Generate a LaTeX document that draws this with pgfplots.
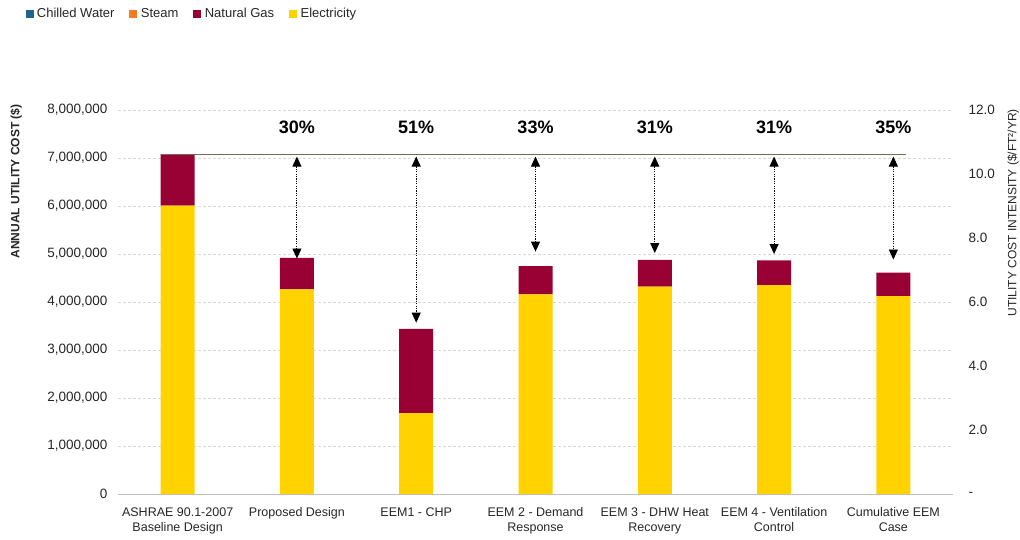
\documentclass[border=0pt]{standalone}
\usepackage{fontspec}
\setmainfont{Liberation Sans}
\usepackage{pgfplots}
\usepackage{pgfplotstable}
\pgfplotsset{compat=1.18}
\usetikzlibrary{arrows.meta}
\definecolor{cw}{HTML}{1F6391}
\definecolor{stm}{HTML}{F47B20}
\definecolor{gas}{HTML}{990033}
\definecolor{elec}{HTML}{FFD200}
\definecolor{refl}{HTML}{7A6A55}
\definecolor{gridc}{HTML}{D9D9D9}
\definecolor{axc}{HTML}{BFBFBF}
\definecolor{txt}{HTML}{262626}

% annual utility cost ($) by end use
\pgfplotstableread{
x elec gas
0 6010000 1070000
1 4265000 655000
2 1685000 1755000
3 4160000 585000
4 4320000 560000
5 4350000 515000
6 4120000 490000
}\costs

\newcommand{\lfont}{\fontsize{12.5}{15}\selectfont}
\newcommand{\nfont}{\fontsize{13.5}{15}\selectfont}

\begin{document}
\begin{tikzpicture}
\begin{axis}[
  name=main,
  scale only axis, width=835pt, height=384pt,
  ybar stacked, bar width=34pt,
  xmin=-0.5, xmax=6.5, ymin=0, ymax=8000000,
  xtick={0,...,6},
  xticklabels={{ASHRAE 90.1-2007\\Baseline Design},{Proposed Design},{EEM1 - CHP},{EEM 2 - Demand\\Response},{EEM 3 - DHW Heat\\Recovery},{EEM 4 - Ventilation\\Control},{Cumulative EEM\\Case}},
  xticklabel style={align=center, font=\lfont, text=txt, yshift=-10pt},
  ytick={0,1000000,...,8000000},
  scaled y ticks=false,
  yticklabel style={/pgf/number format/.cd, fixed, precision=0, 1000 sep={,}, assume math mode=true, /tikz/.cd, font=\nfont, text=txt, xshift=-7pt},
  major tick length=0pt,
  ymajorgrids, grid style={gridc, line width=0.8pt, dash pattern=on 3pt off 2pt},
  axis lines*=left,
  x axis line style={axc, line width=1pt},
  y axis line style={draw=none},
  ylabel={ANNUAL UTILITY COST (\$)},
  ylabel style={at={(axis description cs:-0.122,0.814)}, anchor=center, font=\bfseries\fontsize{12}{14}\selectfont, text=txt},
  legend columns=4,
  legend style={at={(axis description cs:-0.111,1.25)}, anchor=west, draw=none, fill=none, inner sep=0pt, font=\fontsize{13}{15}\selectfont, text=txt,
    /tikz/every even column/.append style={column sep=13pt}},
  legend cell align=left,
]
\addplot[fill=elec, draw=none, forget plot] table[x=x, y=elec]{\costs};
\addplot[fill=gas, draw=none, forget plot] table[x=x, y=gas]{\costs};
\addlegendimage{legend image code/.code={\fill[cw] (0pt,-3.5pt) rectangle (7pt,3.5pt); \path (9pt,0pt);}}
\addlegendimage{legend image code/.code={\fill[stm] (0pt,-3.5pt) rectangle (7pt,3.5pt); \path (9pt,0pt);}}
\addlegendimage{legend image code/.code={\fill[gas] (0pt,-3.5pt) rectangle (7pt,3.5pt); \path (9pt,0pt);}}
\addlegendimage{legend image code/.code={\fill[elec] (0pt,-3.5pt) rectangle (7pt,3.5pt); \path (9pt,0pt);}}
\legend{Chilled Water, Steam, Natural Gas, Electricity}
\coordinate (ll) at (rel axis cs:0,0);
\end{axis}

% overlay: baseline reference line, savings arrows, percentages
\begin{axis}[
  scale only axis, width=835pt, height=384pt,
  xmin=-0.5, xmax=6.5, ymin=0, ymax=8000000,
  hide axis, clip=false,
]
\addplot[refl, line width=1.8pt] coordinates {(-0.142,7075000) (6.11,7075000)};
\foreach \i/\t/\b in {1/7030000/4906000, 2/7030000/3570000, 3/7030000/5050000, 4/7030000/5020000, 5/7030000/5000000, 6/7030000/4885000}{
  \edef\tmp{\noexpand\addplot[black, line width=0.9pt, dash pattern=on 1.2pt off 1.2pt, {Triangle[width=9pt,length=10pt]}-{Triangle[width=9pt,length=10pt]}] coordinates {(\i,\t) (\i,\b)};}
  \tmp
}
\foreach \i/\p in {1/30,2/51,3/33,4/31,5/31,6/35}{
  \edef\tmp{\noexpand\node[font=\noexpand\bfseries\noexpand\fontsize{18}{20}\noexpand\selectfont] at (axis cs:\i,7640000) {\p\noexpand\%};}
  \tmp
}
\end{axis}

% right axis: utility cost intensity
\begin{axis}[
  scale only axis, width=835pt, height=384pt,
  xmin=-0.5, xmax=6.5, ymin=0, ymax=12,
  axis x line=none, axis y line*=right,
  y axis line style={draw=none},
  ytick={0,2,...,12},
  yticklabels={-,2.0,4.0,6.0,8.0,10.0,12.0},
  yticklabel style={font=\nfont, text=txt, anchor=west, xshift=12pt},
  major tick length=0pt,
  ylabel={UTILITY COST INTENSITY (\$/FT²/YR)},
  ylabel style={at={(axis description cs:1.072,0.732)}, anchor=center, font=\fontsize{12}{14}\selectfont, text=txt},
]
\end{axis}

\pgfresetboundingbox
\path[use as bounding box] (ll) ++(-118pt,-45pt) rectangle ++(1020pt,539pt);
\end{tikzpicture}
\end{document}
